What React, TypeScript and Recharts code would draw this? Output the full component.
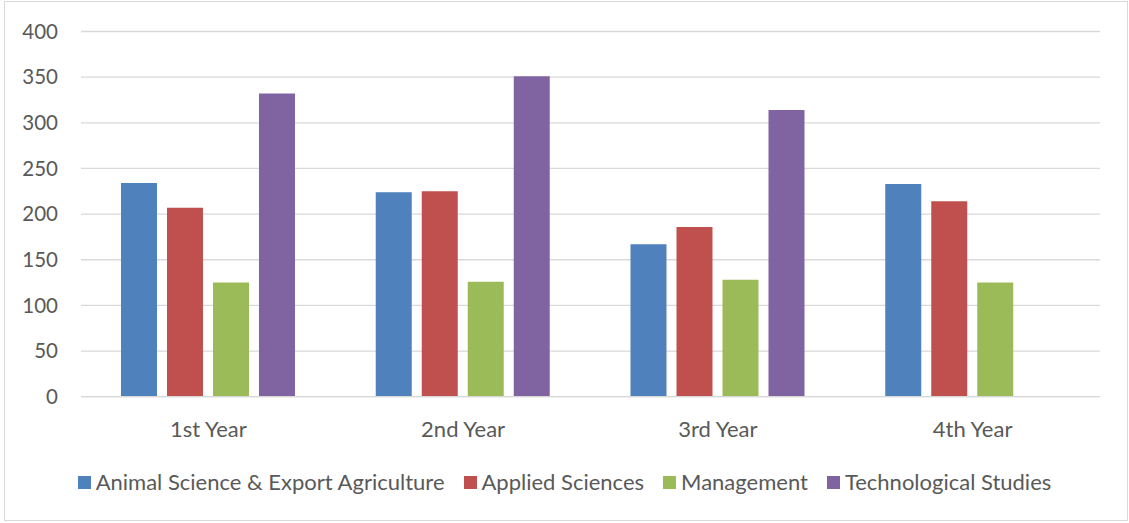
import { Bar, BarChart, CartesianGrid, Legend, XAxis, YAxis } from "recharts";

const years = ["1st Year", "2nd Year", "3rd Year", "4th Year"];
const animalScience = [234, 224, 167, 233];
const appliedSciences = [207, 225, 186, 214];
const management = [125, 126, 128, 125];
const technological = [332, 351, 314, null];
const yTicks = [0, 50, 100, 150, 200, 250, 300, 350, 400];

const series = [
  { key: "Animal Science & Export Agriculture", color: "#4f81bd", values: animalScience },
  { key: "Applied Sciences", color: "#c0504d", values: appliedSciences },
  { key: "Management", color: "#9bbb59", values: management },
  { key: "Technological Studies", color: "#8064a2", values: technological },
];

const data = years.map((name, i) => {
  const row: Record<string, any> = { name };
  series.forEach((s) => {
    row[s.key] = s.values[i];
  });
  return row;
});

const FONT = "Lato, 'Noto Sans', sans-serif";
const TEXT = "#595959";

function LegendRow() {
  return (
    <div style={{ display: "flex", justifyContent: "center", gap: 19, fontSize: 22, color: TEXT, fontFamily: FONT }}>
      {series.map((s) => (
        <div key={s.key} style={{ display: "flex", alignItems: "center", gap: 5 }}>
          <span style={{ width: 13, height: 13, background: s.color, display: "inline-block" }} />
          <span style={{ lineHeight: "24px" }}>{s.key}</span>
        </div>
      ))}
    </div>
  );
}

export default function App() {
  return (
    <div style={{ position: "absolute", left: 0, top: 0, width: 1129, height: 523, background: "#fff", fontFamily: FONT }}>
      <div
        style={{
          position: "absolute",
          left: 4,
          top: 1,
          width: 1124,
          height: 520,
          boxSizing: "border-box",
          border: "1.5px solid #d9d9d9",
        }}
      />
      <BarChart
        width={1129}
        height={523}
        data={data}
        margin={{ top: 31.5, right: 29, bottom: 86.3, left: 21 }}
        barCategoryGap="15.7%"
        barGap={10}
      >
        <CartesianGrid vertical={false} stroke="#d9d9d9" strokeWidth={1.3} />
        <XAxis
          dataKey="name"
          height={40}
          tickLine={false}
          axisLine={{ stroke: "#d9d9d9", strokeWidth: 1.3 }}
          tickSize={0}
          tickMargin={25}
          tick={{ fill: TEXT, fontSize: 22, fontFamily: FONT }}
        />
        <YAxis
          width={60}
          domain={[0, 400]}
          ticks={yTicks}
          axisLine={false}
          tickLine={false}
          tickSize={0}
          tickMargin={23}
          tick={{ fill: TEXT, fontSize: 20.5, fontFamily: FONT }}
        />
        <Legend
          layout="horizontal"
          verticalAlign="middle"
          align="center"
          wrapperStyle={{ top: 470, left: 0, width: 1129 }}
          content={() => <LegendRow />}
        />
        {series.map((s) => (
          <Bar key={s.key} dataKey={s.key} fill={s.color} isAnimationActive={false} />
        ))}
      </BarChart>
    </div>
  );
}
